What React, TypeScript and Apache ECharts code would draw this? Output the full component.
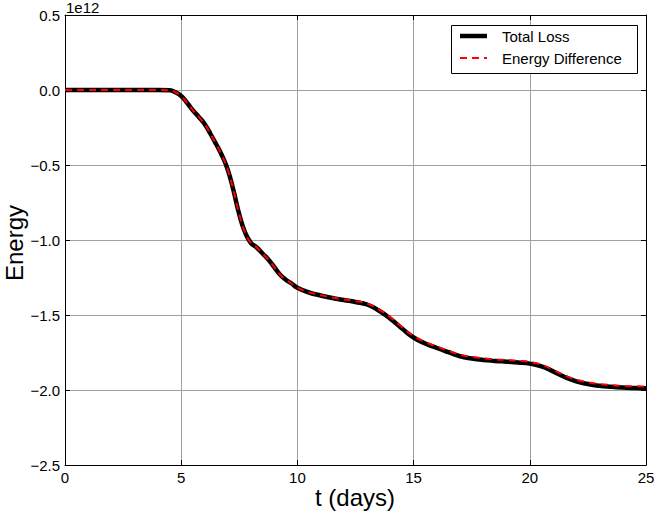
import React, { useEffect, useRef } from "react";
import * as echarts from "echarts";

// time in days
const tDays = [0, 1, 2, 3, 4, 4.5, 4.75, 5, 5.25, 5.5, 5.75, 6, 6.25, 6.5, 6.75, 7, 7.25, 7.5, 7.75, 8, 8.25, 8.5, 8.75, 9, 9.25, 9.5, 9.75, 10, 10.5, 11, 11.5, 12, 12.5, 13, 13.5, 14, 14.5, 15, 15.5, 16, 16.5, 17, 17.5, 18, 18.5, 19, 19.5, 20, 20.5, 21, 21.5, 22, 22.5, 23, 23.5, 24, 24.5, 25];

// energy values in units of 1e12
const totalLoss = [0, 0, 0, 0, 0, -0.002, -0.015, -0.04, -0.085, -0.135, -0.178, -0.225, -0.29, -0.36, -0.435, -0.53, -0.67, -0.83, -0.95, -1.02, -1.05, -1.09, -1.13, -1.18, -1.23, -1.265, -1.29, -1.318, -1.35, -1.37, -1.387, -1.4, -1.413, -1.43, -1.47, -1.525, -1.59, -1.65, -1.69, -1.72, -1.748, -1.775, -1.79, -1.8, -1.806, -1.811, -1.816, -1.824, -1.842, -1.876, -1.913, -1.942, -1.96, -1.972, -1.979, -1.984, -1.987, -1.989];
const energyDiff = [0, 0, 0, 0, 0, -0.002, -0.015, -0.04, -0.085, -0.135, -0.178, -0.225, -0.29, -0.36, -0.435, -0.53, -0.67, -0.83, -0.95, -1.02, -1.05, -1.09, -1.13, -1.18, -1.23, -1.265, -1.29, -1.318, -1.349, -1.368, -1.384, -1.396, -1.408, -1.424, -1.462, -1.516, -1.58, -1.64, -1.68, -1.71, -1.738, -1.765, -1.779, -1.789, -1.795, -1.8, -1.805, -1.813, -1.831, -1.865, -1.902, -1.931, -1.948, -1.96, -1.967, -1.972, -1.975, -1.977];

const seriesNames = ["Total Loss", "Energy Difference"];
const xAxisTitle = "t (days)";
const yAxisTitle = "Energy";
const yScaleLabel = "1e12";

const FONT = "Liberation Sans, Arial, Helvetica, sans-serif";

function fmtY(v: number) {
  const s = Math.abs(v).toFixed(1);
  return v < 0 ? "\u2212" + s : s;
}

export default function App() {
  const ref = useRef<HTMLDivElement>(null);
  useEffect(() => {
    if (!ref.current) return;
    const chart = echarts.init(ref.current, undefined, { renderer: "svg" });
    const lossData = tDays.map((t, i) => [t, totalLoss[i]]);
    const diffData = tDays.map((t, i) => [t, energyDiff[i]]);
    const axisLine = { show: true, onZero: false, lineStyle: { color: "#000", width: 1 } };
    const tick = { show: true, inside: true, length: 5, lineStyle: { color: "#000", width: 1 } };
    chart.setOption({
      animation: false,
      backgroundColor: "#fff",
      grid: { left: 65, right: 8, top: 15, bottom: 49, containLabel: false, outerBoundsMode: "none" },
      xAxis: [
        {
          type: "value",
          min: 0,
          max: 25,
          interval: 5,
          position: "bottom",
          axisLine,
          axisTick: tick,
          axisLabel: { fontFamily: FONT, fontSize: 15, color: "#000", margin: 5, showMaxLabel: true, showMinLabel: true },
          splitLine: { show: true, lineStyle: { color: "#a0a0a0", width: 1 } },
        },
        {
          type: "value",
          min: 0,
          max: 25,
          interval: 5,
          position: "top",
          axisLine,
          axisTick: tick,
          axisLabel: { show: false },
          splitLine: { show: false },
        },
      ],
      yAxis: [
        {
          type: "value",
          min: -2.5,
          max: 0.5,
          interval: 0.5,
          position: "left",
          axisLine,
          axisTick: tick,
          axisLabel: { fontFamily: FONT, fontSize: 15, color: "#000", margin: 5, formatter: (v: number) => fmtY(v) },
          splitLine: { show: true, lineStyle: { color: "#a0a0a0", width: 1 } },
        },
        {
          type: "value",
          min: -2.5,
          max: 0.5,
          interval: 0.5,
          position: "right",
          axisLine,
          axisTick: tick,
          axisLabel: { show: false },
          splitLine: { show: false },
        },
      ],
      series: [
        {
          name: seriesNames[0],
          type: "line",
          data: lossData,
          showSymbol: false,
          smooth: 0.5,
          lineStyle: { color: "#000", width: 4.5 },
          z: 2,
        },
        {
          name: seriesNames[1],
          type: "line",
          data: diffData,
          showSymbol: false,
          smooth: 0.5,
          lineStyle: { color: "#ff0000", width: 2, type: [7, 5] },
          z: 3,
        },
      ],
      graphic: [
        {
          type: "text",
          x: 355,
          y: 497,
          style: { text: xAxisTitle, fontFamily: FONT, fontSize: 24, fill: "#000", align: "center", verticalAlign: "middle" },
        },
        {
          type: "text",
          x: 14,
          y: 243,
          rotation: Math.PI / 2,
          style: { text: yAxisTitle, fontFamily: FONT, fontSize: 24, fill: "#000", align: "center", verticalAlign: "middle" },
        },
        {
          type: "text",
          left: 66,
          top: 0,
          style: { text: yScaleLabel, fontFamily: FONT, fontSize: 15, fill: "#000" },
        },
        {
          type: "rect",
          shape: { x: 451.5, y: 25.5, width: 186, height: 48 },
          style: { fill: "#fff", stroke: "#000", lineWidth: 1 },
          z: 10,
        },
        {
          type: "line",
          shape: { x1: 460, y1: 36, x2: 487, y2: 36 },
          style: { stroke: "#000", lineWidth: 4.5 },
          z: 11,
        },
        {
          type: "line",
          shape: { x1: 460, y1: 58, x2: 487, y2: 58 },
          style: { stroke: "#ff0000", lineWidth: 2, lineDash: [7, 5] },
          z: 11,
        },
        {
          type: "text",
          x: 502,
          y: 36,
          style: { text: seriesNames[0], fontFamily: FONT, fontSize: 15, fill: "#000", verticalAlign: "middle" },
          z: 11,
        },
        {
          type: "text",
          x: 502,
          y: 58,
          style: { text: seriesNames[1], fontFamily: FONT, fontSize: 15, fill: "#000", verticalAlign: "middle" },
          z: 11,
        },
      ],
    });
    return () => chart.dispose();
  }, []);
  return <div ref={ref} style={{ position: "absolute", left: 0, top: 0, width: 654, height: 514 }} />;
}
